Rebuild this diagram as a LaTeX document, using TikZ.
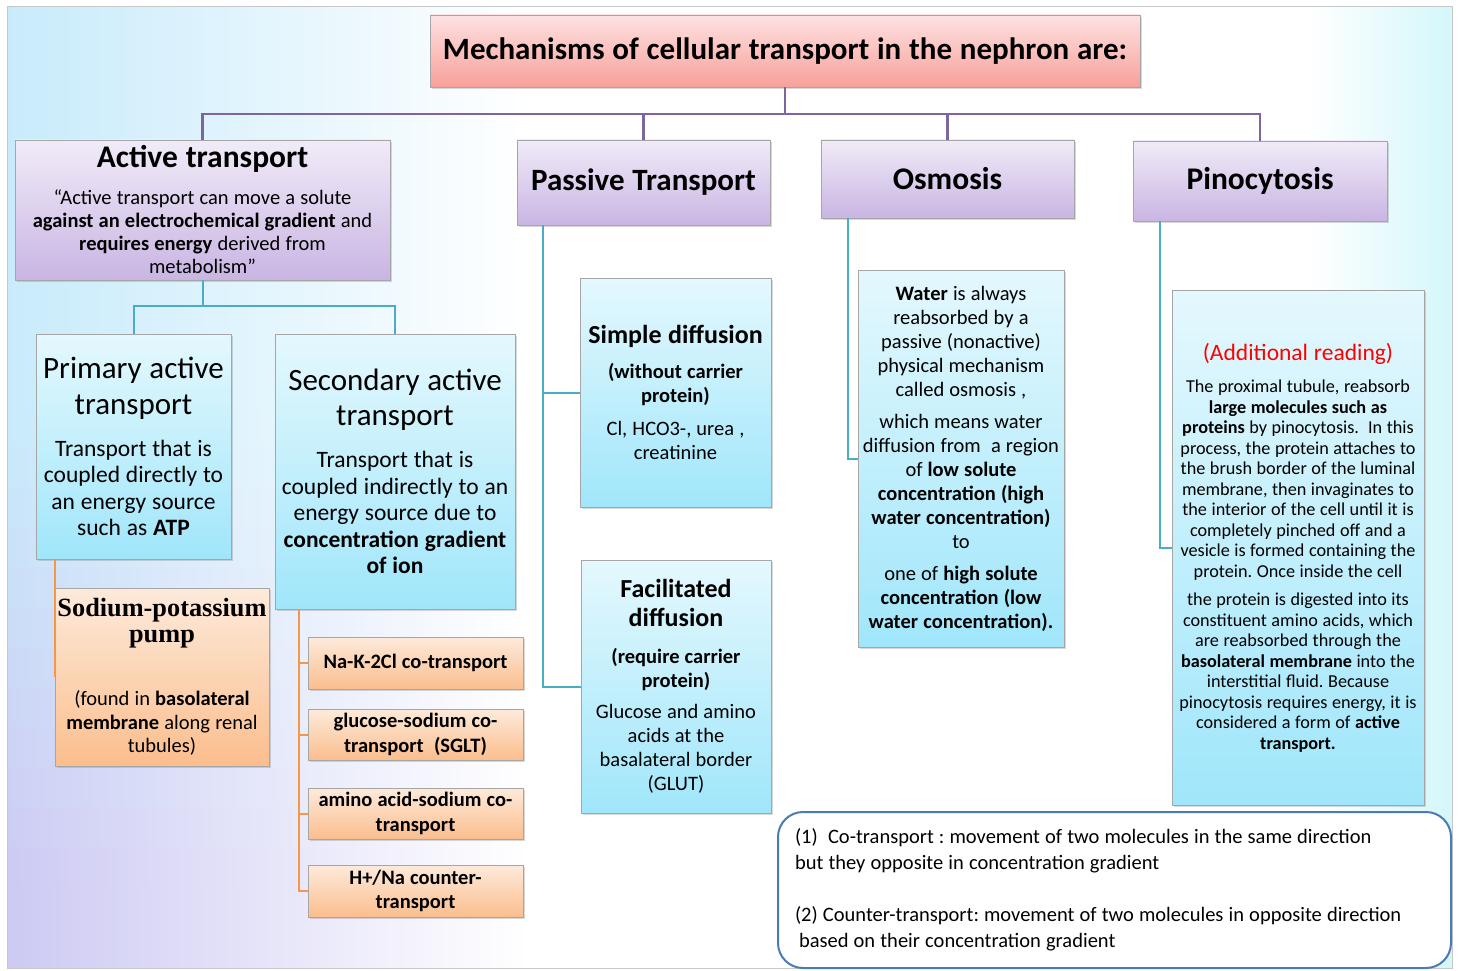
\documentclass[tikz,border=0pt]{standalone}
\usepackage{fontspec}
\setmainfont{Carlito}
\newfontfamily\serifb{Liberation Serif}
\usetikzlibrary{shadows,calc}
\definecolor{pl}{HTML}{8064A2}
\definecolor{tl}{HTML}{4BACC6}
\definecolor{ol}{HTML}{F79646}
\definecolor{purT}{HTML}{F1EBF8}
\definecolor{purB}{HTML}{C9B5E3}
\definecolor{cyT}{HTML}{E4F8FD}
\definecolor{cyB}{HTML}{A0E6FB}
\definecolor{orT}{HTML}{FDEADB}
\definecolor{orB}{HTML}{FBBE8D}
\definecolor{pkT}{HTML}{FDE2E2}
\definecolor{pkB}{HTML}{F8A09A}
\definecolor{bgL}{HTML}{C8EBFB}
\definecolor{bgR}{HTML}{D4F7FA}
\definecolor{lav}{HTML}{CDCAF3}
\definecolor{nb}{HTML}{4A7BB7}
\colorlet{cc}{bgL}
\newcommand\fs[2]{\fontsize{#1}{#2}\selectfont\spaceskip=0.25em\relax\xspaceskip=0.25em\relax}
\pgfdeclarehorizontalshading[cc]{bgh}{100bp}{color(0bp)=(cc); color(25bp)=(cc); color(43bp)=(white); color(70bp)=(white); color(75bp)=(bgR); color(100bp)=(bgR)}
\tikzset{
  box/.style={rectangle, draw=black!35, line width=0.6pt, inner ysep=0pt, inner xsep=-10pt, align=center,
    drop shadow={opacity=0.3, shadow xshift=2pt, shadow yshift=-2pt}},
  sz/.style n args={3}{minimum width=#1pt, minimum height=#2pt, text width=#3pt},
  purbox/.style={box, top color=purT, bottom color=purB},
  cybox/.style={box, top color=cyT, bottom color=cyB},
  orbox/.style={box, top color=orT, bottom color=orB},
  pkbox/.style={box, top color=pkT, bottom color=pkB},
  pline/.style={draw=pl, line width=2.2pt},
  tline/.style={draw=tl, line width=2pt},
  oline/.style={draw=ol, line width=2pt},
  notebox/.style={rectangle, rounded corners=25pt, draw=nb, line width=2pt, fill=white, align=left}
}
\begin{document}
\begin{tikzpicture}[x=1pt,y=-1pt]
\useasboundingbox (0,0) rectangle (1459,971);
\fill[white] (0,0) rectangle (1459,971);
% background
\begin{scope}
\clip (7,7) rectangle (1452,968);
\foreach \i in {0,...,23} {
  \pgfmathsetmacro\p{min(100,max(0,(\i*40-393)/4.5))}
  \colorlet{cc}{lav!\p!bgL}
  \shade[shading=bgh] (7,{7+\i*40}) rectangle (1452,{7+\i*40+41});
}
\end{scope}
\draw[black!22, line width=1pt] (7,7) rectangle (1452,968);

% top level
\node[pkbox, sz={710}{72}{730}] (title) at (785,51) {\fs{31}{38}\bfseries Mechanisms of cellular transport in the nephron are:\par};

\node[purbox, sz={375}{140}{395}] (active) at (202.5,210)
 {{\fs{31.5}{32}\bfseries Active transport\par}\vspace{14pt}%
  {\fs{20.5}{23}“Active transport can move a solute\\\textbf{against an electrochemical gradient} and\\\textbf{requires energy} derived from\\metabolism”\par}};
\node[purbox, sz={253}{85}{273}] (passive) at (643.5,182.5) {\fs{31}{36}\bfseries Passive Transport\par};
\node[purbox, sz={253}{78}{273}] (osmosis) at (947.5,179) {\fs{31.5}{36}\bfseries Osmosis\par};
\node[purbox, sz={254}{80}{274}] (pino) at (1260,181) {\fs{31.5}{36}\bfseries Pinocytosis\par};

% active branch
\node[cybox, sz={195}{225}{215}] (primary) at (133.5,446.5)
 {{\fs{31}{36}Primary active\\transport\par}\vspace{15pt}%
  {\fs{23.5}{26.5}Transport that is\\coupled directly to\\an energy source\\such as \textbf{ATP}\par}};
\node[cybox, sz={240}{275}{260}] (secondary) at (395,471.5)
 {{\fs{31}{35}Secondary active\\transport\par}\vspace{16pt}%
  {\fs{23.5}{26.5}Transport that is\\coupled indirectly to an\\energy source due to\\\textbf{concentration gradient}\\\textbf{of ion}\par}};
\node[orbox, sz={214}{178}{234}] (sodium) at (162,677)
 {{\serifb\bfseries\fs{26.3}{26}Sodium-potassium\\pump\par}\vspace{40pt}%
  {\fs{20.5}{23.5}(found in \textbf{basolateral}\\\textbf{membrane} along renal\\tubules)\par}};
\node[orbox, sz={215}{52}{235}] (nak) at (415.5,663) {\fs{20.5}{24}\bfseries Na-K-2Cl co-transport\par};
\node[orbox, sz={215}{51}{235}] (sglt) at (415.5,734.5) {\fs{20.5}{24.5}\bfseries glucose-sodium co-\\transport~ (SGLT)\par};
\node[orbox, sz={215}{51}{235}] (amino) at (415.5,813.5) {\fs{20.5}{24.5}\bfseries amino acid-sodium co-\\transport\par};
\node[orbox, sz={215}{52}{235}] (hna) at (415.5,891) {\fs{20.5}{24.5}\bfseries H+/Na counter-\\transport\par};

% passive branch
\node[cybox, sz={191}{229}{211}] (simple) at (675.5,392.5)
 {{\fs{26}{29}\bfseries Simple diffusion\par}\vspace{11pt}%
  {\fs{20.5}{24}\bfseries (without carrier\\protein)\par}\vspace{9pt}%
  {\fs{20.5}{24}Cl, HCO3-, urea ,\\creatinine\par}};
\node[cybox, sz={190}{253}{210}] (facil) at (676,686.5)
 {{\fs{26}{29}\bfseries Facilitated\\diffusion\par}\vspace{13pt}%
  {\fs{20.5}{24}\bfseries (require carrier\\protein)\par}\vspace{7pt}%
  {\fs{20.5}{24}Glucose and amino\\acids at the\\basalateral border\\(GLUT)\par}};

% osmosis
\node[cybox, sz={206}{377}{226}] (osmtext) at (961,458.5)
 {{\fs{20.5}{24}\textbf{Water} is always\\reabsorbed by a\\passive (nonactive)\\physical mechanism\\called osmosis ,\par}\vspace{8pt}%
  {\fs{20.5}{24}which means water\\diffusion from~ a region\\of \textbf{low solute}\\\textbf{concentration (high}\\\textbf{water concentration)}\\to\par}\vspace{8pt}%
  {\fs{20.5}{24}one of \textbf{high solute}\\\textbf{concentration (low}\\\textbf{water concentration).}\par}};

% pinocytosis
\node[cybox, sz={252}{515}{272}] (pinotext) at (1298,547.5)
 {{\fs{23.5}{26}\color{red}(Additional reading)\par}\vspace{12pt}%
  {\fs{18.2}{20.5}The proximal tubule, reabsorb\\\textbf{large molecules such as}\\\textbf{proteins} by pinocytosis.~ In this\\process, the protein attaches to\\the brush border of the luminal\\membrane, then invaginates to\\the interior of the cell until it is\\completely pinched off and a\\vesicle is formed containing the\\protein. Once inside the cell\par}\vspace{8pt}%
  {\fs{18.2}{20.5}the protein is digested into its\\constituent amino acids, which\\are reabsorbed through the\\\textbf{basolateral membrane} into the\\interstitial fluid. Because\\pinocytosis requires energy, it is\\considered a form of \textbf{active}\\\textbf{transport.}\par}};

% note
\node[notebox, minimum width=673pt, minimum height=156pt, text width=645pt, inner xsep=14pt, inner ysep=0pt] (note) at (1114.5,890)
 {\hspace*{3pt}\fs{20.5}{26}(1)~ Co-transport : movement of two molecules in the same direction\\\hspace*{3pt}but they opposite in concentration gradient\\[26pt]\hspace*{3pt}(2) Counter-transport: movement of two molecules in opposite direction\\\hspace*{7pt}based on their concentration gradient\par};

% connectors
\path (title.south) ++(0,27) coordinate (bus);
\draw[pline] (title.south) -- (bus);
\foreach \n in {active,passive,osmosis,pino} \draw[pline] (\n.north) |- (bus);

\path (active.south) ++(0,26) coordinate (tbus);
\draw[tline] (active.south) -- (tbus);
\draw[tline] (primary.north) |- (tbus);
\draw[tline] (secondary.north) |- (tbus);

\draw[oline] (primary.south -| sodium.west) -- (sodium.west);
\coordinate (ospine) at (299,0);
\foreach \n in {nak,sglt,amino,hna} \draw[oline] (secondary.south -| ospine) |- (\n.west);

\coordinate (pspine) at (543,0);
\draw[tline] (passive.south -| pspine) |- (simple.west);
\draw[tline] (passive.south -| pspine) |- (facil.west);
\coordinate (osp) at (848,0);
\draw[tline] (osmosis.south -| osp) |- (osmtext.west);
\coordinate (psp) at (1160,0);
\draw[tline] (pino.south -| psp) |- (pinotext.west);
\end{tikzpicture}
\end{document}
